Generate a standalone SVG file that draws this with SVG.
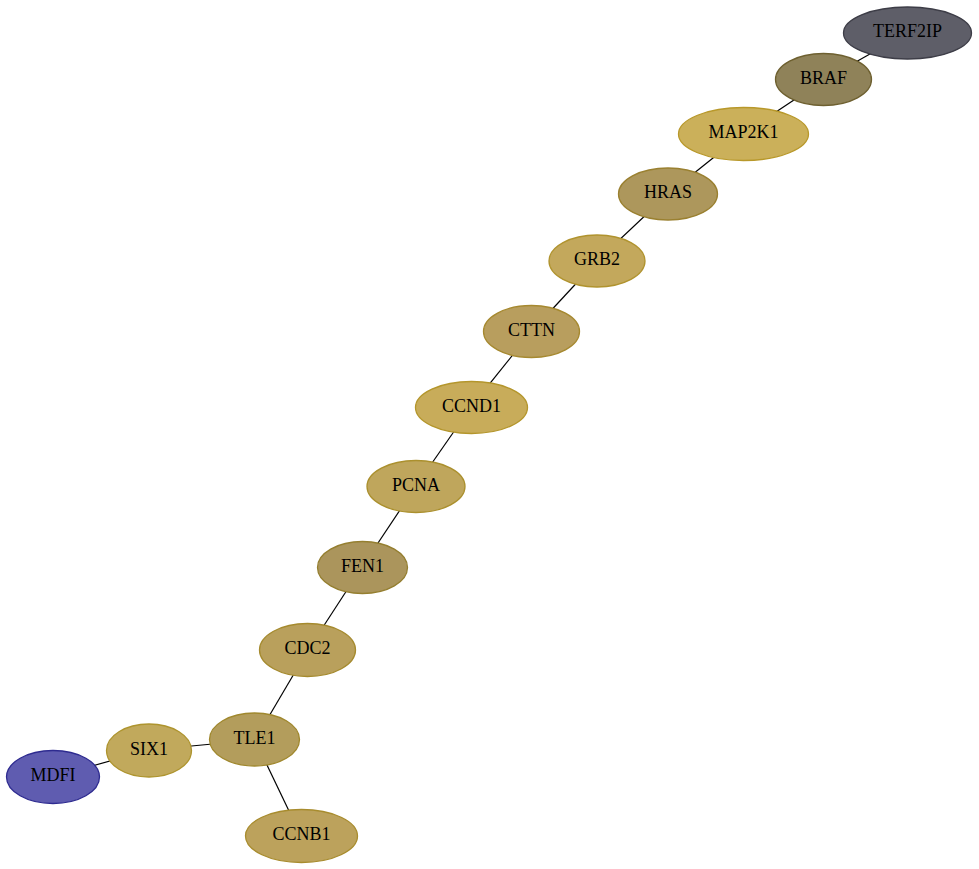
<svg xmlns="http://www.w3.org/2000/svg" width="979" height="869" viewBox="0 0 979 869">
<style>
.n ellipse{stroke-width:1.3}
.n text{font-family:"Liberation Serif","Times New Roman",serif;font-size:18px;fill:#000;text-anchor:middle}
.e line{stroke:#000;stroke-width:1.2}
</style>
<rect width="979" height="869" fill="#fff"/>
<g id="edges" class="e">
<line x1="907" y1="33" x2="824" y2="80"/>
<line x1="824" y1="80" x2="743" y2="134"/>
<line x1="743" y1="134" x2="668" y2="194"/>
<line x1="668" y1="194" x2="597" y2="261"/>
<line x1="597" y1="261" x2="532" y2="331"/>
<line x1="532" y1="331" x2="471" y2="407"/>
<line x1="471" y1="407" x2="416" y2="486"/>
<line x1="416" y1="486" x2="362" y2="567"/>
<line x1="362" y1="567" x2="308" y2="650"/>
<line x1="308" y1="650" x2="255" y2="740"/>
<line x1="255" y1="740" x2="149" y2="750"/>
<line x1="149" y1="750" x2="53" y2="777"/>
<line x1="255" y1="740" x2="301" y2="836"/>
</g>
<g id="TERF2IP" class="n"><ellipse cx="907.5" cy="33" rx="64" ry="26" fill="#5e5e68" stroke="#3d3d47"/><text x="907.5" y="37">TERF2IP</text></g>
<g id="BRAF" class="n"><ellipse cx="823.5" cy="79.5" rx="48" ry="26" fill="#8f8259" stroke="#6e6030"/><text x="823.5" y="83.5">BRAF</text></g>
<g id="MAP2K1" class="n"><ellipse cx="743.5" cy="134" rx="65" ry="26.5" fill="#cbb05a" stroke="#b8982a"/><text x="743.5" y="138">MAP2K1</text></g>
<g id="HRAS" class="n"><ellipse cx="668" cy="194" rx="49.5" ry="26" fill="#ad975c" stroke="#9a8030"/><text x="668" y="198">HRAS</text></g>
<g id="GRB2" class="n"><ellipse cx="597" cy="261" rx="48" ry="26" fill="#c3a85c" stroke="#b0932e"/><text x="597" y="265">GRB2</text></g>
<g id="CTTN" class="n"><ellipse cx="531.5" cy="331.5" rx="48" ry="26" fill="#b89e5e" stroke="#a68930"/><text x="531.5" y="335.5">CTTN</text></g>
<g id="CCND1" class="n"><ellipse cx="471.5" cy="407.5" rx="56" ry="26" fill="#c8ac5a" stroke="#b4962c"/><text x="471.5" y="411.5">CCND1</text></g>
<g id="PCNA" class="n"><ellipse cx="416" cy="486.5" rx="49" ry="26" fill="#bfa65c" stroke="#ab902e"/><text x="416" y="490.5">PCNA</text></g>
<g id="FEN1" class="n"><ellipse cx="362.5" cy="567.5" rx="45" ry="26" fill="#ab955c" stroke="#957f30"/><text x="362.5" y="571.5">FEN1</text></g>
<g id="CDC2" class="n"><ellipse cx="307.5" cy="650" rx="48" ry="26.5" fill="#b9a05c" stroke="#a58a2e"/><text x="307.5" y="654">CDC2</text></g>
<g id="TLE1" class="n"><ellipse cx="254.5" cy="739.5" rx="45" ry="26.5" fill="#b39d5c" stroke="#a0882e"/><text x="254.5" y="743.5">TLE1</text></g>
<g id="SIX1" class="n"><ellipse cx="149" cy="750.5" rx="42.5" ry="26.5" fill="#c1a95c" stroke="#ae942e"/><text x="149" y="754.5">SIX1</text></g>
<g id="MDFI" class="n"><ellipse cx="53" cy="777" rx="46.5" ry="26.5" fill="#5f5cb0" stroke="#2e2b90"/><text x="53" y="781">MDFI</text></g>
<g id="CCNB1" class="n"><ellipse cx="301.5" cy="836" rx="56" ry="26.5" fill="#bca25c" stroke="#a88c2e"/><text x="301.5" y="840">CCNB1</text></g>
</svg>
